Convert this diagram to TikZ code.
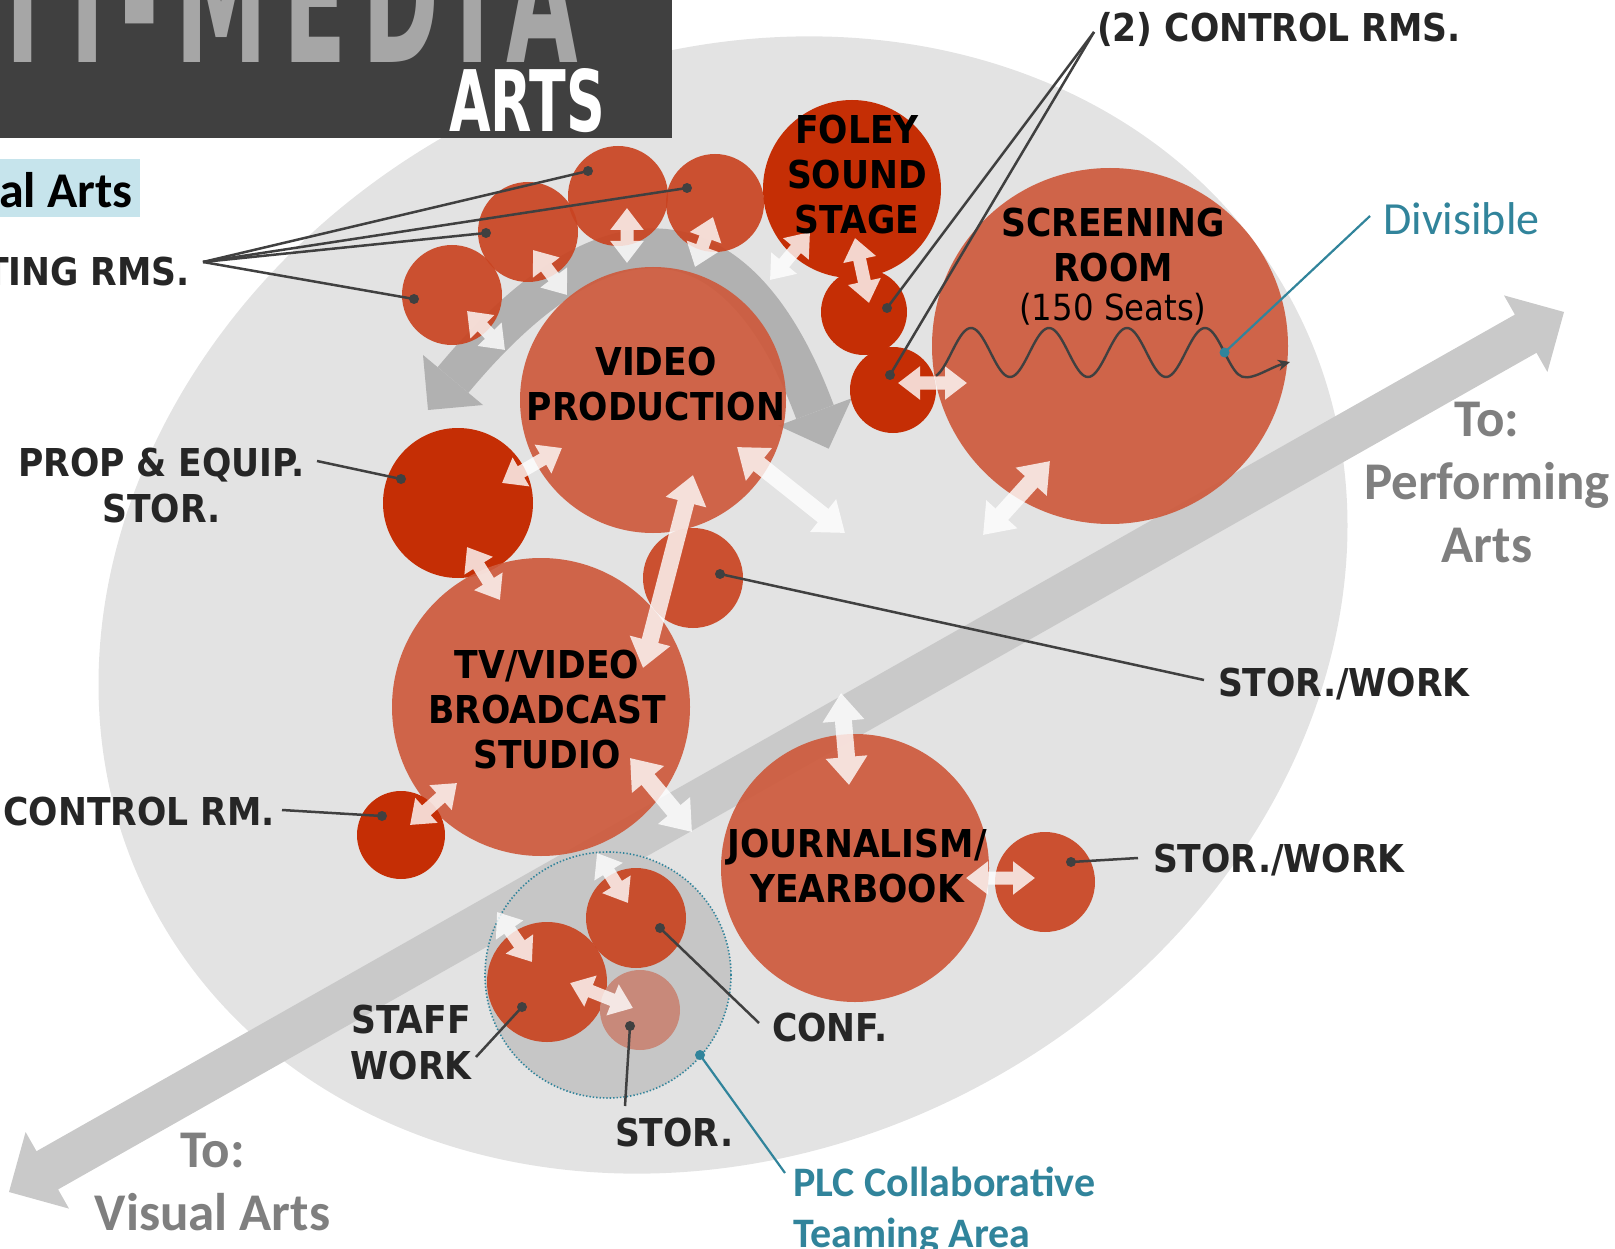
\documentclass[tikz,border=0pt]{standalone}
\usepackage{fontspec}
\usepackage{graphicx}
\usetikzlibrary{arrows.meta,calc}
\newfontfamily\lblfont[FakeStretch=0.9]{DejaVu Sans}
\newfontfamily\hdrfont[FakeStretch=0.52, LetterSpace=9]{DejaVu Sans}
\newfontfamily\calfont{Carlito}
\definecolor{bgell}{HTML}{E3E3E3}
\definecolor{diagc}{HTML}{C9C9C9}
\definecolor{bandc}{HTML}{B1B1B1}
\definecolor{bigred}{HTML}{CE5A3C}
\definecolor{midred}{HTML}{C94421}
\definecolor{darkred}{HTML}{C52E05}
\definecolor{fadedred}{HTML}{C8897A}
\definecolor{plcc}{HTML}{C6C6C6}
\definecolor{ldr}{HTML}{404040}
\definecolor{lblc}{HTML}{262626}
\definecolor{grayt}{HTML}{7F7F7F}
\definecolor{tealc}{HTML}{31849B}
\definecolor{hdrbg}{HTML}{404040}
\definecolor{hdrtxt}{HTML}{A6A6A6}
\definecolor{bluebox}{HTML}{C6E4EC}
\tikzset{
  lbl/.style={inner sep=0pt, outer sep=0pt, text=lblc, align=center,
    font=\lblfont\bfseries\fontsize{38.4}{46}\selectfont},
  rlbl/.style={lbl, text=black, font=\lblfont\bfseries\fontsize{38.4}{45}\selectfont},
  grayl/.style={inner sep=0pt, text=grayt, align=center,
    font=\calfont\bfseries\fontsize{53}{63}\selectfont},
  room/.style={circle, inner sep=0pt, outer sep=0pt, draw=none},
  bigroom/.style={room, fill=bigred, fill opacity=0.92},
  midroom/.style={room, fill=midred, fill opacity=0.92},
  darkroom/.style={room, fill=darkred},
  dotn/.style={circle, fill=ldr, inner sep=0pt, minimum size=10pt},
  tdot/.style={circle, fill=tealc, inner sep=0pt, minimum size=10pt},
  leader/.style={draw=ldr, line width=2.5pt},
  tleader/.style={draw=tealc, line width=2.2pt},
  wsmall/.style={draw=white, line width=13pt,
    {Triangle[width=32pt,length=22pt]}-{Triangle[width=32pt,length=22pt]}},
  wlarge/.style={draw=white, line width=17pt,
    {Triangle[width=40pt,length=28pt]}-{Triangle[width=40pt,length=28pt]}},
}
\begin{document}
\begin{tikzpicture}[x=1pt,y=-1pt]
\useasboundingbox (0,0) rectangle (1615,1249);
\clip (0,0) rectangle (1615,1249);

% big background ellipse
\fill[bgell, rotate around={28:(723,605)}] (723,605) ellipse [x radius=645pt, y radius=545pt];

% diagonal double arrow
\fill[diagc] (9,1192) -- (25.6,1132.0) -- (36.5,1151.2) -- (1514.9,314.6) -- (1504.0,295.4)
  -- (1564,312) -- (1547.4,372.0) -- (1536.5,352.8) -- (58.1,1189.4) -- (69.0,1208.6) -- cycle;

% PLC collaborative area
\node[circle, inner sep=0pt, minimum size=246pt, fill=plcc, draw=tealc, line width=1.6pt,
  dash pattern=on 1.4pt off 2pt] (plc) at (608,975) {};

% curved gray band around video production
\draw[bandc, line width=40pt] (815,412) .. controls (734.5,195.8) and (600.2,202.9) .. (453,380);
\fill[bandc] (851.7,398.3) -- (828.7,448.7) -- (778.3,425.7) -- cycle;
\fill[bandc] (483,405) -- (428,410) -- (423,355) -- cycle;

% rooms
\node[midroom, minimum size=100pt] (ed1) at (452,295) {};
\node[midroom, minimum size=100pt] (ed2) at (528,232) {};
\node[midroom, minimum size=100pt] (ed3) at (618,196) {};
\node[midroom, minimum size=98pt] (ed4) at (715,203) {};
\node[darkroom, minimum size=178pt] (foley) at (852,189) {};
\node[darkroom, minimum size=86pt] (cr1) at (864,312) {};
\node[darkroom, minimum size=86pt] (cr2) at (893,390) {};
\node[bigroom, minimum size=356pt] (scr) at (1110,346) {};
\node[bigroom, minimum size=266pt] (vp) at (653,400) {};
\node[darkroom, minimum size=150pt] (prop) at (458,503) {};
\node[midroom, minimum size=100pt] (sw1) at (693,578) {};
\node[bigroom, minimum size=298pt] (tv) at (541,707) {};
\node[darkroom, minimum size=88pt] (tvc) at (401,835) {};
\node[bigroom, minimum size=268pt] (jour) at (855,868) {};
\node[midroom, minimum size=100pt] (sw2) at (1045,882) {};
\node[midroom, minimum size=100pt] (conf) at (636,918) {};
\node[midroom, minimum size=120pt] (staff) at (547,982) {};
\node[room, fill=fadedred, minimum size=80pt] (stor) at (640,1010) {};

% white double arrows
\coordinate (w1a) at (467,311);  \coordinate (w1b) at (505,350);
\coordinate (w2a) at (533,250);  \coordinate (w2b) at (567,295);
\coordinate (w3a) at (627,208);  \coordinate (w3b) at (627,263);
\coordinate (w4a) at (713,217);  \coordinate (w4b) at (695,267);
\coordinate (w5a) at (810,232);  \coordinate (w5b) at (770,280);
\coordinate (w6a) at (855,238);  \coordinate (w6b) at (869,303);
\coordinate (w7a) at (898,383);  \coordinate (w7b) at (967,383);
\coordinate (w8a) at (502,483);  \coordinate (w8b) at (562,448);
\coordinate (w9a) at (737,447);  \coordinate (w9b) at (845,533);
\coordinate (w10a) at (1050,461); \coordinate (w10b) at (983,535);
\coordinate (w11a) at (693,475); \coordinate (w11b) at (643,668);
\coordinate (w12a) at (467,547); \coordinate (w12b) at (500,600);
\coordinate (w13a) at (410,825); \coordinate (w13b) at (457,783);
\coordinate (w14a) at (630,758); \coordinate (w14b) at (692,832);
\coordinate (w15a) at (841,693); \coordinate (w15b) at (849,785);
\coordinate (w16a) at (966,878); \coordinate (w16b) at (1035,878);
\coordinate (w17a) at (597,853); \coordinate (w17b) at (628,903);
\coordinate (w18a) at (497,912); \coordinate (w18b) at (532,962);
\coordinate (w19a) at (570,983); \coordinate (w19b) at (633,1008);
\begin{scope}[transparency group, opacity=0.8]
\draw[wsmall] (w1a) -- (w1b);
\draw[wsmall] (w2a) -- (w2b);
\draw[wsmall] (w3a) -- (w3b);
\draw[wsmall] (w4a) -- (w4b);
\draw[wsmall] (w5a) -- (w5b);
\draw[wsmall] (w6a) -- (w6b);
\draw[wsmall] (w7a) -- (w7b);
\draw[wsmall] (w8a) -- (w8b);
\draw[wlarge] (w9a) -- (w9b);
\draw[wlarge] (w10a) -- (w10b);
\draw[wlarge] (w11a) -- (w11b);
\draw[wsmall] (w12a) -- (w12b);
\draw[wsmall] (w13a) -- (w13b);
\draw[wlarge] (w14a) -- (w14b);
\draw[wlarge] (w15a) -- (w15b);
\draw[wsmall] (w16a) -- (w16b);
\draw[wsmall] (w17a) -- (w17b);
\draw[wsmall] (w18a) -- (w18b);
\draw[wsmall] (w19a) -- (w19b);
\end{scope}

% divisible wall (wavy line)
\draw[leader, line width=2.4pt, -{Stealth[length=12pt,width=11pt]}]
  plot[domain=936:1238, samples=150, smooth] (\x, {352.5 - 24.5*cos(((\x-971)/78)*360)})
  .. controls (1248,384) and (1268,368) .. (1290,362);

% label texts
\node[lbl, anchor=north east] (edT) at (190,257) {EDITING RMS.};
\node[lbl, anchor=north west] (crT) at (1097,12) {(2) CONTROL RMS.};
\node[lbl, anchor=north] (propT) at (161.5,448) {PROP \& EQUIP.\\STOR.};
\node[lbl, anchor=north east] (tvcT) at (275,797) {CONTROL RM.};
\node[lbl, anchor=north west] (sw1T) at (1218,668) {STOR./WORK};
\node[lbl, anchor=north west] (sw2T) at (1153,844) {STOR./WORK};
\node[lbl, anchor=north west] (confT) at (772,1013) {CONF.};
\node[lbl, anchor=north] (staffT) at (411,1005) {STAFF\\WORK};
\node[lbl, anchor=north west] (storT) at (615,1118) {STOR.};

% room names
\node[rlbl, anchor=north] (foleyT) at (857,115) {FOLEY\\SOUND\\STAGE};
\node[rlbl, anchor=north] (scrT) at (1113,208) {SCREENING\\ROOM\\[-6pt]{\mdseries\fontsize{36}{40}\selectfont (150 Seats)}};
\node[rlbl, anchor=north] (vpT) at (656,347) {VIDEO\\PRODUCTION};
\node[rlbl, anchor=north] (tvT) at (547,650) {TV/VIDEO\\BROADCAST\\STUDIO};
\node[rlbl, anchor=north] (jourT) at (857,829) {JOURNALISM/\\YEARBOOK};

% dots
\node[dotn] (dEd1) at (414,299) {};
\node[dotn] (dEd2) at (486,233) {};
\node[dotn] (dEd3) at (588,171) {};
\node[dotn] (dEd4) at (687,188) {};
\node[dotn] (dCr1) at (887,308) {};
\node[dotn] (dCr2) at (890,375) {};
\node[dotn] (dProp) at (401,479) {};
\node[dotn] (dTvc) at (382,816) {};
\node[dotn] (dSw1) at (720,574) {};
\node[dotn] (dSw2) at (1071,862) {};
\node[dotn] (dConf) at (660,928) {};
\node[dotn] (dStaff) at (522,1007) {};
\node[dotn] (dStor) at (630,1026) {};
\node[tdot] (dDiv) at (1224.5,352.5) {};
\node[tdot] (dPlc) at (700,1055) {};

% leader free ends
\coordinate (lEd) at (203,262);
\coordinate (lCr) at (1094,32);
\coordinate (lProp) at (317,461);
\coordinate (lTvc) at (282,810);
\coordinate (lSw1) at (1204,680);
\coordinate (lSw2) at (1138,858);
\coordinate (lConf) at (759,1023);
\coordinate (lStaff) at (476,1057);
\coordinate (lStor) at (625,1106);
\coordinate (lDiv) at (1370,216);
\coordinate (lPlc) at (785,1173);

\draw[leader] (lEd) -- (dEd1.center);
\draw[leader] (lEd) -- (dEd2.center);
\draw[leader] (lEd) -- (dEd3.center);
\draw[leader] (lEd) -- (dEd4.center);
\draw[leader] (lCr) -- (dCr1.center);
\draw[leader] (lCr) -- (dCr2.center);
\draw[leader] (lProp) -- (dProp.center);
\draw[leader] (lTvc) -- (dTvc.center);
\draw[leader] (lSw1) -- (dSw1.center);
\draw[leader] (lSw2) -- (dSw2.center);
\draw[leader] (lConf) -- (dConf.center);
\draw[leader] (lStaff) -- (dStaff.center);
\draw[leader] (lStor) -- (dStor.center);
\draw[tleader] (lDiv) -- (dDiv.center);
\draw[tleader] (lPlc) -- (dPlc.center);

% gray direction labels
\node[grayl, anchor=north] (toPA) at (1487,402) {To:\\Performing\\Arts};
\node[grayl, anchor=north] (toVA) at (212.5,1133) {To:\\Visual Arts};

% teal labels
\node[inner sep=0pt, anchor=north west, text=tealc, font=\calfont\fontsize{46}{52}\selectfont] (divT) at (1383,202) {Divisible};
\node[inner sep=0pt, anchor=north west, text=tealc, align=left,
  font=\calfont\bfseries\fontsize{42}{51}\selectfont] (plcT) at (793,1167) {PLC Collaborative\\Teaming Area};

% header
\fill[hdrbg] (0,0) rectangle (672,138);
\node[anchor=south east, inner sep=0pt, text=hdrtxt, font=\hdrfont\bfseries\fontsize{178}{178}\selectfont] (hdrA) at (578,65) {MULTI-MEDIA};
\node[anchor=south west, inner sep=0pt, text=white, font=\lblfont\bfseries] (hdrB) at (449,133) {\resizebox{156pt}{63pt}{ARTS}};

% blue tab
\fill[bluebox] (0,159) rectangle (140,217);
\node[anchor=north east, inner sep=0pt, text=black, font=\calfont\bfseries\fontsize{50}{56}\selectfont] (vaTab) at (133,172) {Visual Arts};
\end{tikzpicture}
\end{document}
